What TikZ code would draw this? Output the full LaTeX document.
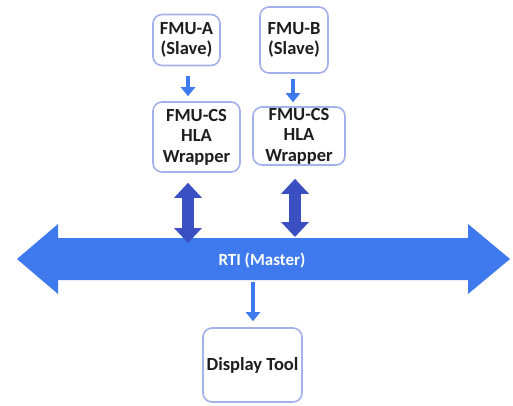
\documentclass[tikz,border=0pt]{standalone}
\usepackage{fontspec}
\setmainfont{Carlito}
\usetikzlibrary{arrows.meta}
\definecolor{barblue}{RGB}{62,122,238}
\definecolor{dblblue}{RGB}{58,80,194}
\definecolor{boxline}{RGB}{164,176,234}
\definecolor{txt}{RGB}{30,30,30}
\tikzset{
  box/.style={draw=boxline, line width=1.6pt, rounded corners=9pt, fill=white,
    align=center, text=txt, font=\fontsize{18.5}{20.5}\selectfont\bfseries, inner sep=0pt},
  smallarr/.style={draw=barblue, line width=3.5pt,
    -{Triangle[width=14pt,length=9pt]}},
  dblarr/.style={draw=dblblue, line width=12pt,
    {Triangle[width=27pt,length=15pt]}-{Triangle[width=27pt,length=15pt]}},
  bar/.style={fill=barblue, draw=none}
}
\begin{document}
\begin{tikzpicture}[x=1pt,y=-1pt]
\useasboundingbox (0,0) rectangle (513,405);
% big RTI arrow
\fill[bar] (17,259) -- (58,224) -- (58,238) -- (468,238) -- (468,224) -- (510,259)
  -- (468,294) -- (468,280) -- (58,280) -- (58,294) -- cycle;
\node[text=white, font=\fontsize{17}{20}\selectfont\bfseries] (rti) at (262,260) {RTI (Master)};
% boxes
\node[box, minimum width=67pt, minimum height=51pt] (fa) at (186.5,40) {FMU-A\\(Slave)};
\node[box, minimum width=68pt, minimum height=66pt] (fb) at (294,40) {FMU-B\\(Slave)};
\node[box, minimum width=87pt, minimum height=70pt] (wa) at (196.5,137) {FMU-CS\\HLA\\Wrapper};
\node[box, minimum width=92pt, minimum height=58pt] (wb) at (299,136) {FMU-CS\\HLA\\Wrapper};
\node[box, minimum width=99pt, minimum height=74pt] (disp) at (252.5,365) {Display Tool};
% small arrows
\draw[smallarr, shorten <=10pt, shorten >=5pt] ([xshift=1.5pt]fa.south) -- ([xshift=1.5pt]fa.south |- wa.north);
\draw[smallarr, shorten <=5pt, shorten >=4pt] ([xshift=-1pt]fb.south) -- ([xshift=-1pt]fb.south |- wb.north);
% double arrows
\coordinate (barA) at (188,243);
\coordinate (barB) at (295,237);
\draw[dblarr, shorten <=10pt] (wa.south -| barA) -- (barA);
\draw[dblarr, shorten <=13pt] (wb.south -| barB) -- (barB);
% down arrow to display
\coordinate (barC) at (253,282);
\draw[smallarr, shorten >=6pt] (barC) -- (disp.north -| barC);
\end{tikzpicture}
\end{document}
